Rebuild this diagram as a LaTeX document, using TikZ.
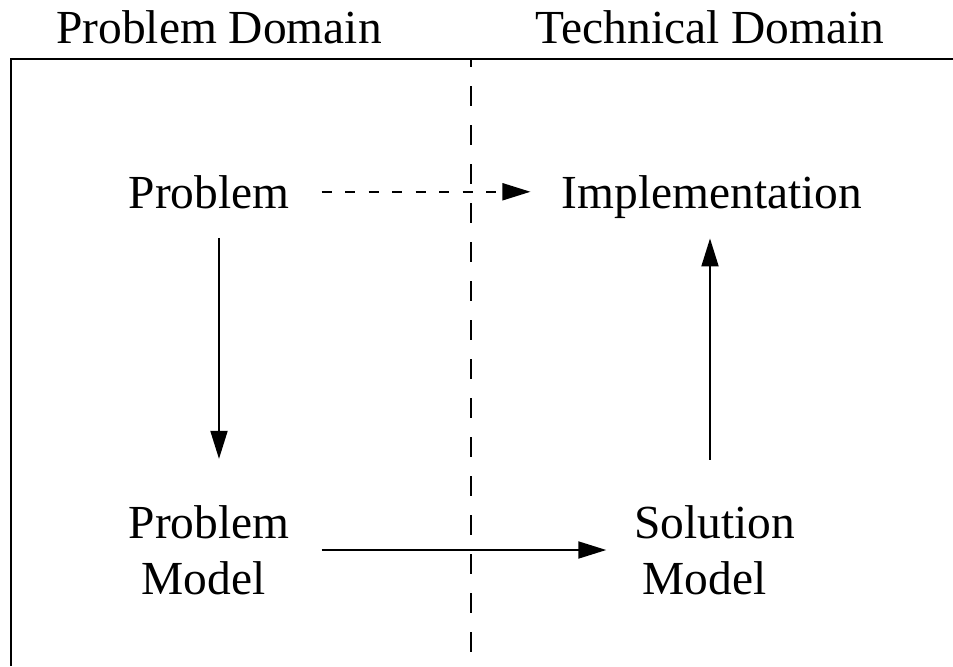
\documentclass[tikz,border=0pt]{standalone}
\usepackage{fontspec}
\setmainfont{Liberation Serif}
\usetikzlibrary{arrows.meta}
\begin{document}
\begin{tikzpicture}[x=0.02cm,y=-0.02cm,
  label/.style={inner sep=0pt,font=\fontsize{27}{32}\selectfont},
  twoline/.style={label,align=center},
  flow/.style={line width=1.1pt,-{Triangle[length=0.56cm,width=0.34cm]}},
  dashflow/.style={flow,dash pattern=on 0.2cm off 0.27cm},
  frame/.style={line width=1.6pt},
  divider/.style={line width=1.5pt,dash pattern=on 0.39cm off 0.39cm,dash phase=0.232cm}]
  \useasboundingbox (0,0) rectangle (953,666);

  % outer frame (open to the right and bottom) and domain divider
  \draw[frame] (11,666) -- (11,59) -- (953,59);
  \draw[divider] (471,59) -- (471,666);

  % domain headings
  \node[label,anchor=base] (pd) at (219,43) {Problem Domain};
  \node[label,anchor=base] (td) at (710,43) {Technical Domain};

  % the four stages
  \node[label,anchor=base] (prob) at (209,208) {Problem};
  \node[label,anchor=base] (impl) at (712,208) {Implementation};
  \node[twoline] (pm) at (209,550) {Problem\\\hspace*{-0.22cm}Model};
  \node[twoline] (sm) at (715,550) {Solution\\\hspace*{-0.42cm}Model};

  % connectors
  \draw[dashflow,shorten <=0.64cm,shorten >=0.62cm]
    (prob.east) -- (prob.east -| impl.west);
  \draw[flow,shorten <=0.58cm,shorten >=0.92cm]
    ([xshift=0.2cm]prob.south) -- ([xshift=0.2cm]prob.south |- pm.north);
  \draw[flow,shorten <=0.64cm,shorten >=0.56cm]
    (pm.east) -- (pm.east -| sm.west);
  \draw[flow,shorten <=0.9cm,shorten >=0.4cm]
    ([xshift=-0.1cm]sm.north) -- ([xshift=-0.1cm]sm.north |- impl.south);
\end{tikzpicture}
\end{document}
